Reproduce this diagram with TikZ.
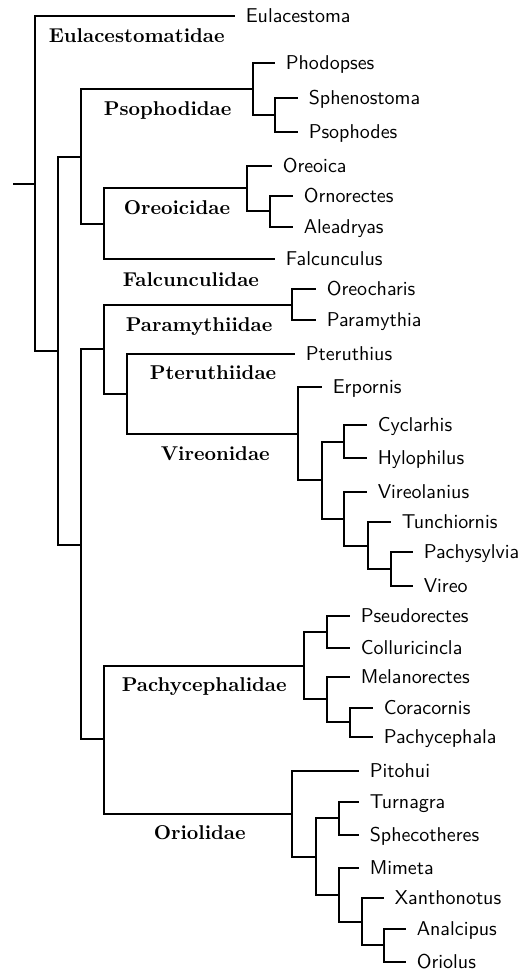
\documentclass[tikz,border=0pt]{standalone}
\begin{document}
\begin{tikzpicture}[x=0.5pt,y=-0.5pt,line width=0.8pt,
  leaf/.style={font=\sffamily, anchor=west, inner xsep=5pt, inner ysep=0pt, text height=6.9pt, text depth=0pt},
  fam/.style={font=\bfseries, anchor=west, inner sep=0pt, text height=6.9pt, text depth=0pt}]
\useasboundingbox (0,0) rectangle (521,976);
% internal nodes
\coordinate (stub) at (13,184);
\coordinate (R) at (35,184);
\coordinate (N1) at (58,351);
\coordinate (N2) at (81,157);
\coordinate (N3) at (81,545);
\coordinate (P) at (253,89);
\coordinate (P2) at (275,115);
\coordinate (N4) at (104,224);
\coordinate (O) at (247,188);
\coordinate (O2) at (270,211);
\coordinate (N5) at (104,349);
\coordinate (N6) at (104,739);
\coordinate (Pm) at (292,305);
\coordinate (N7) at (127,394);
\coordinate (V) at (298,434);
\coordinate (V2) at (322,480);
\coordinate (V3) at (344,442);
\coordinate (V4) at (344,519);
\coordinate (V5) at (368,546);
\coordinate (V6) at (391,569);
\coordinate (Pc) at (304,666);
\coordinate (Pc1) at (327,632);
\coordinate (Pc2) at (327,699);
\coordinate (Pc3) at (350,722);
\coordinate (Or) at (292,814);
\coordinate (Or1) at (316,857);
\coordinate (Or2) at (339,818);
\coordinate (Or3) at (339,895);
\coordinate (Or4) at (362,922);
\coordinate (Or5) at (384,945);
% leaves
\node[leaf] (eul) at (235,16) {Eulacestoma};
\node[leaf] (pho) at (275,63) {Phodopses};
\node[leaf] (sph) at (298,98) {Sphenostoma};
\node[leaf] (pso) at (298,132) {Psophodes};
\node[leaf] (oreo) at (272,166) {Oreoica};
\node[leaf] (orn) at (293,196) {Ornorectes};
\node[leaf] (ale) at (293,227) {Aleadryas};
\node[leaf] (fal) at (275,259) {Falcunculus};
\node[leaf] (orc) at (316,289) {Oreocharis};
\node[leaf] (par) at (316,320) {Paramythia};
\node[leaf] (pte) at (295,354) {Pteruthius};
\node[leaf] (erp) at (322,387) {Erpornis};
\node[leaf] (cyc) at (367,425) {Cyclarhis};
\node[leaf] (hyl) at (367,458) {Hylophilus};
\node[leaf] (vla) at (367,492) {Vireolanius};
\node[leaf] (tun) at (391,522) {Tunchiornis};
\node[leaf] (pac) at (413,552) {Pachysylvia};
\node[leaf] (vir) at (413,586) {Vireo};
\node[leaf] (pse) at (350,616) {Pseudorectes};
\node[leaf] (col) at (350,648) {Colluricincla};
\node[leaf] (mel) at (350,677) {Melanorectes};
\node[leaf] (cor) at (373,708) {Coracornis};
\node[leaf] (pch) at (373,737) {Pachycephala};
\node[leaf] (pit) at (359,771) {Pitohui};
\node[leaf] (tur) at (359,802) {Turnagra};
\node[leaf] (sphc) at (359,835) {Sphecotheres};
\node[leaf] (mim) at (359,868) {Mimeta};
\node[leaf] (xan) at (384,898) {Xanthonotus};
\node[leaf] (ana) at (406,929) {Analcipus};
\node[leaf] (ori) at (406,962) {Oriolus};
% family labels
\node[fam] (fEul) at (48,36) {Eulacestomatidae};
\node[fam] (fPso) at (103,109) {Psophodidae};
\node[fam] (fOre) at (123,208) {Oreoicidae};
\node[fam] (fFal) at (122,280) {Falcunculidae};
\node[fam] (fPar) at (125,325) {Paramythiidae};
\node[fam] (fPte) at (149,373) {Pteruthiidae};
\node[fam] (fVir) at (160,454) {Vireonidae};
\node[fam] (fPac) at (121,685) {Pachycephalidae};
\node[fam] (fOri) at (153,833) {Oriolidae};
% branches
\draw (stub) -- (R);
\draw (R) |- (eul.west); \draw (R) |- (N1);
\draw (N1) |- (N2); \draw (N1) |- (N3);
\draw (N2) |- (P); \draw (N2) |- (N4);
\draw (P) |- (pho.west); \draw (P) |- (P2);
\draw (P2) |- (sph.west); \draw (P2) |- (pso.west);
\draw (N4) |- (O); \draw (N4) |- (fal.west);
\draw (O) |- (oreo.west); \draw (O) |- (O2);
\draw (O2) |- (orn.west); \draw (O2) |- (ale.west);
\draw (N3) |- (N5); \draw (N3) |- (N6);
\draw (N5) |- (Pm); \draw (N5) |- (N7);
\draw (Pm) |- (orc.west); \draw (Pm) |- (par.west);
\draw (N7) |- (pte.west); \draw (N7) |- (V);
\draw (V) |- (erp.west); \draw (V) |- (V2);
\draw (V2) |- (V3); \draw (V2) |- (V4);
\draw (V3) |- (cyc.west); \draw (V3) |- (hyl.west);
\draw (V4) |- (vla.west); \draw (V4) |- (V5);
\draw (V5) |- (tun.west); \draw (V5) |- (V6);
\draw (V6) |- (pac.west); \draw (V6) |- (vir.west);
\draw (N6) |- (Pc); \draw (N6) |- (Or);
\draw (Pc) |- (Pc1); \draw (Pc) |- (Pc2);
\draw (Pc1) |- (pse.west); \draw (Pc1) |- (col.west);
\draw (Pc2) |- (mel.west); \draw (Pc2) |- (Pc3);
\draw (Pc3) |- (cor.west); \draw (Pc3) |- (pch.west);
\draw (Or) |- (pit.west); \draw (Or) |- (Or1);
\draw (Or1) |- (Or2); \draw (Or1) |- (Or3);
\draw (Or2) |- (tur.west); \draw (Or2) |- (sphc.west);
\draw (Or3) |- (mim.west); \draw (Or3) |- (Or4);
\draw (Or4) |- (xan.west); \draw (Or4) |- (Or5);
\draw (Or5) |- (ana.west); \draw (Or5) |- (ori.west);
\end{tikzpicture}
\end{document}
